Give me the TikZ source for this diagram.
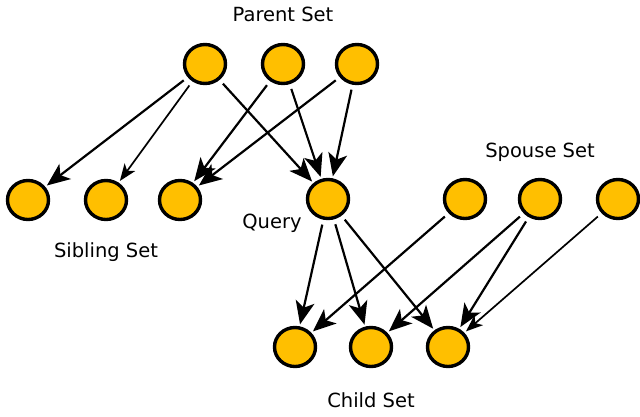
\documentclass[tikz,border=0pt]{standalone}
\usepackage{fontspec}
\setmainfont{DejaVu Sans}
\usetikzlibrary{arrows.meta,shapes.geometric}
\definecolor{nodefill}{HTML}{FFBF00}
\begin{document}
\begin{tikzpicture}[x=1pt,y=-1pt,
  vnode/.style={ellipse,draw=black,line width=3.4pt,fill=nodefill,minimum width=41pt,minimum height=39pt,inner sep=0pt,outer sep=1.7pt},
  lbl/.style={font=\fontsize{19.5}{23}\selectfont,inner sep=0pt},
  bigarrow/.style={line width=2.2pt,-{Stealth[length=23pt,width=19pt,inset=6pt]},shorten <=5pt,shorten >=2pt},
  smallarrow/.style={line width=1.7pt,-{Stealth[length=17pt,width=13pt,inset=4.5pt]},shorten <=5pt,shorten >=2pt}]
\useasboundingbox (0,0) rectangle (640,416);
% nodes
\node[vnode] (p1) at (205,64) {};
\node[vnode] (p2) at (283,64) {};
\node[vnode] (p3) at (357,64) {};
\node[vnode] (s1) at (28,200) {};
\node[vnode] (s2) at (106,200) {};
\node[vnode] (s3) at (180,200) {};
\node[vnode] (q) at (328,199) {};
\node[vnode] (sp1) at (465,199) {};
\node[vnode] (sp2) at (540,199) {};
\node[vnode] (sp3) at (618,199) {};
\node[vnode] (c1) at (295,347) {};
\node[vnode] (c2) at (371,347) {};
\node[vnode] (c3) at (448,347) {};
% labels
\node[lbl,anchor=base] (lp) at (283,21) {Parent Set};
\node[lbl,anchor=base] (ls) at (106,257) {Sibling Set};
\node[lbl,anchor=base] (lq) at (272,228) {Query};
\node[lbl,anchor=base] (lsp) at (540,157) {Spouse Set};
\node[lbl,anchor=base] (lc) at (371,407) {Child Set};
% edges
\draw[bigarrow] (p1) -- (s1);
\draw[smallarrow] (p1) -- (s2);
\draw[bigarrow] (p1) -- (q);
\draw[bigarrow] (p2) -- (s3);
\draw[bigarrow] (p2) -- (q);
\draw[bigarrow] (p3) -- (s3);
\draw[bigarrow] (p3) -- (q);
\draw[bigarrow] (q) -- (c1);
\draw[bigarrow] (q) -- (c2);
\draw[bigarrow] (q) -- (c3);
\draw[bigarrow] (sp1) -- (c1);
\draw[bigarrow] (sp2) -- (c2);
\draw[bigarrow] (sp2) -- (c3);
\draw[smallarrow] (sp3) -- (c3);
\end{tikzpicture}
\end{document}
